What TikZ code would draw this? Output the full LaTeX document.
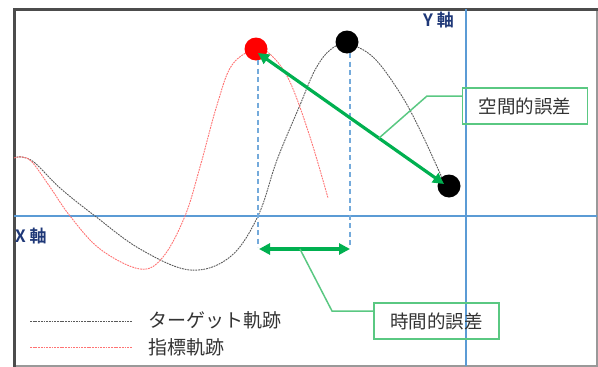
\documentclass[tikz,border=0pt]{standalone}
\usepackage{fontspec}
\newfontfamily\cjk{Noto Sans CJK JP}[BoldFont={Noto Sans CJK JP Bold}]
\usetikzlibrary{arrows.meta,calc}
\definecolor{axisblue}{RGB}{91,155,213}
\definecolor{navy}{RGB}{31,56,120}
\definecolor{ggreen}{RGB}{0,176,80}
\definecolor{lgreen}{RGB}{90,200,130}
\tikzset{
  axisline/.style={draw=axisblue, line width=1.5pt},
  guide/.style={draw=axisblue!85, line width=1.4pt, dash pattern=on 5pt off 3.5pt},
  tcurve/.style={draw=black!65, line width=0.9pt, dash pattern=on 1.8pt off 0.9pt},
  icurve/.style={draw=red!55, line width=0.9pt, dash pattern=on 1.8pt off 0.9pt},
  dot/.style={circle, inner sep=0pt, minimum size=23pt},
  errarrow/.style={draw=ggreen, line width=3.2pt, {Triangle[length=11pt,width=11pt]}-{Triangle[length=11pt,width=11pt]}},
  leader/.style={draw=lgreen, line width=1.5pt},
  callout/.style={draw=lgreen, line width=1.5pt, minimum width=125pt, minimum height=36pt, inner sep=0pt, font=\cjk\fontsize{18.5}{22}\selectfont, text=black!80},
  axislabel/.style={font=\cjk\bfseries\fontsize{17}{20}\selectfont, text=navy, inner sep=0pt},
  legendtext/.style={font=\cjk\fontsize{19}{22}\selectfont, text=black!80, inner sep=0pt, anchor=west}
}
\begin{document}
\begin{tikzpicture}[x=1pt,y=-1pt]
\useasboundingbox (0,0) rectangle (598,367);
% frame
\draw[draw=black!40, line width=1.5pt] (14,9) rectangle (597,366);
\draw[draw=black!70, line width=3pt] (14,367) -- (14,9) -- (598,9);
% axes
\draw[axisline] (14,216) -- (597,216);
\draw[axisline] (466,9) -- (466,366);
\node[axislabel, anchor=west] (ylab) at (423,20) {Y 軸};
\node[axislabel, anchor=west] (xlab) at (15,236) {X 軸};
% curves
\draw[tcurve] plot[smooth, tension=0.6] coordinates {(14,158) (22,157) (35,163) (60,188) (95,216) (140,249) (190,270) (230,257) (258,216) (277,160) (300,105) (315,70) (330,50) (347,44) (373,57) (400,93) (420,130) (443,180)};
\draw[icurve] plot[smooth, tension=0.6] coordinates {(14,158) (22,157) (32,162) (50,187) (70,216) (100,249) (140,269) (163,257) (185,216) (200,167) (217,105) (232,65) (256,49) (272,56) (290,82) (310,137) (328,198)};
% dots
\node[dot, fill=red] (red) at (256,49) {};
\node[dot, fill=black] (btop) at (347,42) {};
\node[dot, fill=black] (bend) at (449,186) {};
% guides
\coordinate (g1) at (258,247);
\coordinate (g2) at (350,247);
\draw[guide] (red.center) ++(2,11) -- (g1);
\draw[guide] (btop.center) ++(3,11) -- (g2);
% error arrows
\coordinate (sa) at (258,53);
\coordinate (sb) at (444,184);
\draw[errarrow] (sa) -- (sb);
\coordinate (ta) at (259,249);
\coordinate (tb) at (350,249);
\draw[errarrow] (ta) -- (tb);
% callouts
\node[callout] (space) at (525,106) {空間的誤差};
\node[callout] (time) at (436.5,321) {時間的誤差};
\coordinate (k1) at (427,96);
\coordinate (k2) at (332,311);
\draw[leader] (space.west |- k1) -- (k1) -- ($(sa)!0.65!(sb)$);
\draw[leader] (time.west |- k2) -- (k2) -- ($(ta)!0.45!(tb)$);
% legend
\coordinate (l1a) at (30,321);
\coordinate (l1b) at (132,321);
\coordinate (l2a) at (30,347);
\coordinate (l2b) at (132,347);
\draw[tcurve] (l1a) -- (l1b);
\draw[icurve] (l2a) -- (l2b);
\node[legendtext] (lt1) at (148,320) {ターゲット軌跡};
\node[legendtext] (lt2) at (148,347) {指標軌跡};
\end{tikzpicture}
\end{document}
